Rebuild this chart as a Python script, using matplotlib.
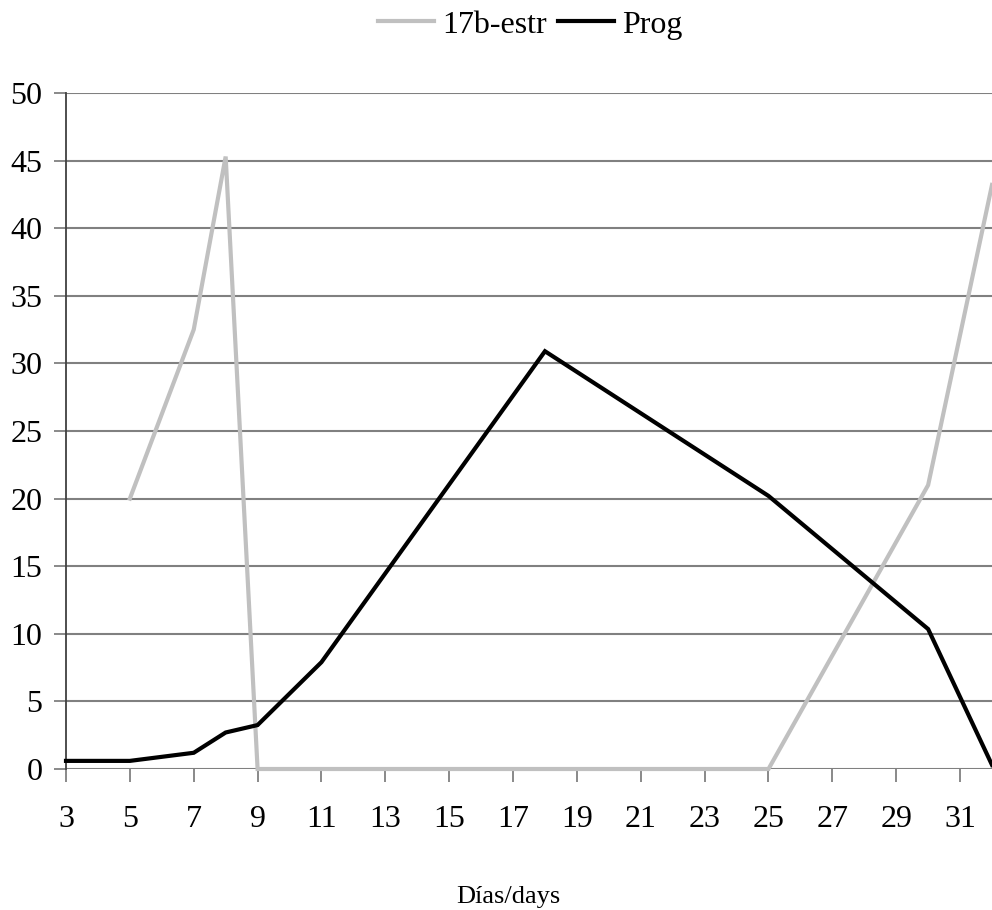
import matplotlib
matplotlib.use("Agg")
import matplotlib.pyplot as plt

days = [3, 5, 7, 8, 9, 11, 18, 25, 30, 32]
prog = [0.6, 0.6, 1.2, 2.7, 3.25, 7.9, 30.9, 20.2, 10.35, 0.3]
estr_days = [5, 7, 8, 9, 25, 30, 32]
estr = [20.0, 32.5, 45.3, 0.0, 0.0, 21.0, 43.2]
xticks = list(range(3, 32, 2))
yticks = list(range(0, 51, 5))

plt.rcParams['font.family'] = ['Liberation Serif', 'DejaVu Serif']

fig = plt.figure(figsize=(9.92, 9.10), dpi=100)
ax = fig.add_axes([66/992, 1-769/910, (992-66)/992, (769-93)/910])

for y in yticks:
    ax.axhline(y, color='#808080', lw=1.5, zorder=1)

ax.plot(estr_days, estr, color='#c0c0c0', lw=3.0, label='17b-estr', zorder=3, solid_joinstyle='miter', clip_on=False)
ax.plot(days, prog, color='black', lw=3.0, label='Prog', zorder=4, solid_joinstyle='miter', clip_on=False)

ax.set_xlim(3, 32)
ax.set_ylim(0, 50)
ax.set_xticks(xticks)
ax.set_yticks(yticks)
ax.tick_params(axis='both', labelsize=23, length=9, width=1.3, color='#808080')
ax.tick_params(axis='x', pad=17)
ax.tick_params(axis='y', pad=8)
for s in ['top', 'right', 'bottom']:
    ax.spines[s].set_visible(False)
ax.spines['left'].set_color('#404040')
ax.spines['left'].set_linewidth(1.3)

fig.text(508/992, 1-903/910, 'Días/days', fontsize=19, ha='center', va='baseline')

fig.legend(loc='center', bbox_to_anchor=(530/992, 1-25/910), ncol=2, frameon=False,
           fontsize=23, handlelength=1.75, handletextpad=0.25, columnspacing=0.35)

fig.savefig('out.png', dpi=100)
